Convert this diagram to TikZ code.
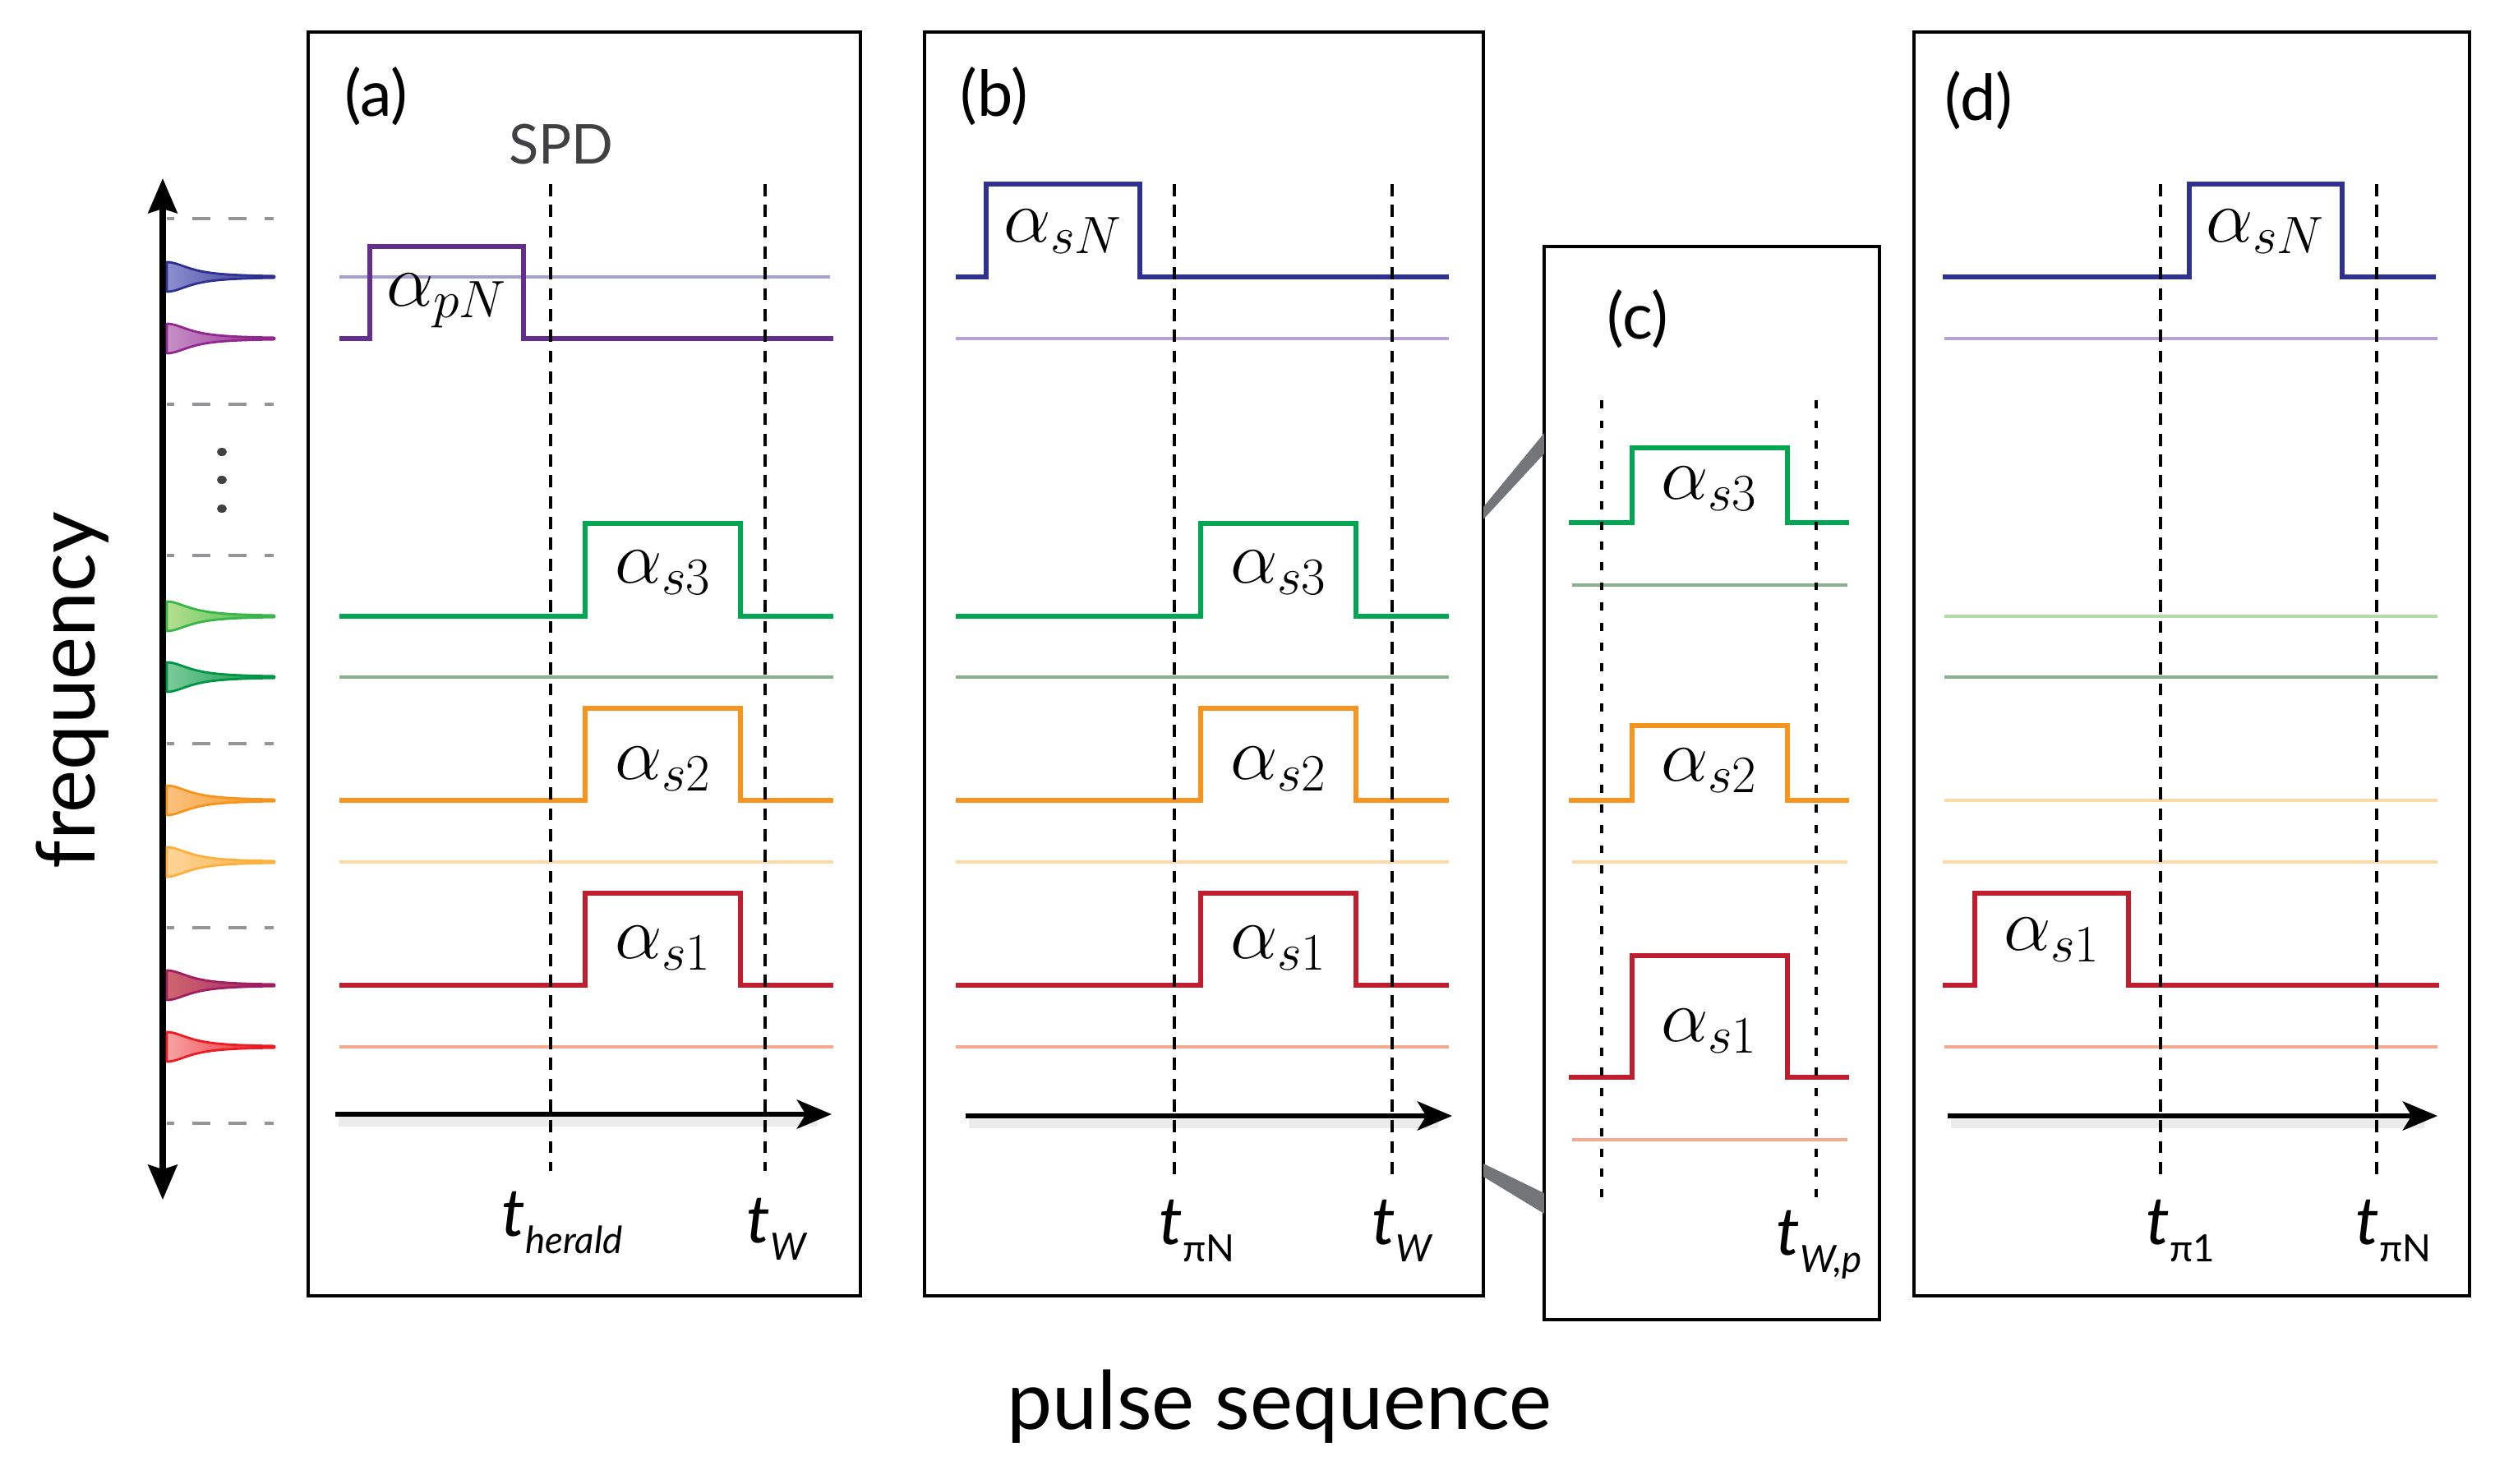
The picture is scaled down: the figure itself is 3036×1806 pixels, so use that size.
\RequirePackage{fix-cm}
\documentclass[tikz,border=0pt]{standalone}
\usepackage{fontspec}
\newfontfamily\labfont{Lato}
\usetikzlibrary{arrows.meta}
\definecolor{cBlu}{HTML}{2E3192}
\definecolor{cPur}{HTML}{662D91}
\definecolor{cLav}{HTML}{A3A1D1}
\definecolor{cLpu}{HTML}{B7A2D3}
\definecolor{cGrn}{HTML}{00A651}
\definecolor{cGg}{HTML}{8DAF90}
\definecolor{cLgr}{HTML}{B3DCA6}
\definecolor{cOra}{HTML}{F7941D}
\definecolor{cLor}{HTML}{FDD9A6}
\definecolor{cRed}{HTML}{BE1E2D}
\definecolor{cLrd}{HTML}{F5A98F}
\definecolor{cTick}{HTML}{939598}
\definecolor{cDot}{HTML}{414042}
\definecolor{cConn}{HTML}{747578}
\definecolor{cSpd}{HTML}{414042}
\definecolor{pBluD}{HTML}{2E3192}\definecolor{pBluL}{HTML}{8C90CF}
\definecolor{pPurD}{HTML}{92278F}\definecolor{pPurL}{HTML}{C690C8}
\definecolor{pLgD}{HTML}{39B54A}\definecolor{pLgL}{HTML}{B6E08F}
\definecolor{pGD}{HTML}{009444}\definecolor{pGL}{HTML}{7DCB9B}
\definecolor{pOD}{HTML}{F7941D}\definecolor{pOL}{HTML}{FBC27F}
\definecolor{pLoD}{HTML}{FBB040}\definecolor{pLoL}{HTML}{FDD598}
\definecolor{pMD}{HTML}{9E1F63}\definecolor{pML}{HTML}{D0656E}
\definecolor{pRD}{HTML}{ED1C24}\definecolor{pRL}{HTML}{F7A3A3}
\newcommand\mytlab[1]{{\fontsize{23}{23}\selectfont\itshape t}\raisebox{-6pt}{\fontsize{13}{13}\selectfont #1}}
\begin{document}
\begin{tikzpicture}[x=0.01cm,y=-0.01cm,
  panel/.style={draw=black,line width=1.2pt},
  sig/.style={line width=1.5pt,line join=miter},
  ghost/.style={line width=1pt},
  tline/.style={line width=1.35pt,dash pattern=on 4.2pt off 3pt},
  tdot/.style={line width=1.4pt,dash pattern=on 2.8pt off 4.2pt},
  tarrow/.style={line width=1.7pt,-{Stealth[length=12pt,width=10pt,inset=3pt]}},
  tshadow/.style={line width=3.5pt,black,opacity=0.08},
  faxis/.style={line width=2pt,{Stealth[length=12pt,width=10pt,inset=1.5pt]}-{Stealth[length=12pt,width=10pt,inset=1.5pt]}},
  tick/.style={draw=cTick,line width=1.1pt,dash pattern=on 2.2mm off 2.2mm,dash phase=1.3mm},
  conn/.style={fill=cConn},
  alab/.style={font=\fontsize{26}{30}\selectfont,inner sep=0pt},
  plab/.style={font=\labfont\fontsize{22}{26}\selectfont,inner sep=0pt},
  spdlab/.style={font=\labfont\fontsize{19}{22}\selectfont,text=cSpd,inner sep=0pt},
  tlab/.style={font=\labfont,inner sep=0pt,anchor=base west},
  biglab/.style={font=\labfont\fontsize{28}{32}\selectfont,inner sep=0pt}]
\useasboundingbox (0,0) rectangle (3036,1806);

% ---------- frequency axis ----------
\coordinate (fbot) at (198,1460);
\coordinate (ftop) at (198,217);
\draw[faxis] (fbot) -- (ftop);
\foreach \y in {266,492,676,905,1129,1367}
  \draw[tick] (203,\y) -- (333,\y);
\foreach \Y/\L/\D in {337/pBluL/pBluD,412/pPurL/pPurD,750/pLgL/pLgD,824/pGL/pGD,974/pOL/pOD,1049/pLoL/pLoD,1199/pML/pMD,1274/pRL/pRD}{
  \shadedraw[left color=\L,right color=\D,draw=\D,line width=0.8pt,line join=round]
    plot[domain=203:334,samples=40,smooth] (\x,{\Y-18/(1+((\x-203)/33)^2)})
    -- plot[domain=334:203,samples=40,smooth] (\x,{\Y+18/(1+((\x-203)/33)^2)}) -- cycle;
}
\foreach \y in {550,584,619}
  \fill[cDot] (270,\y) ellipse (0.6mm and 0.5mm);
\node[biglab,rotate=90] (freq) at (88,840) {frequency};
\node[biglab] (pseq) at (1557,1712) {pulse sequence};

% ---------- panel (a) ----------
\draw[panel] (375,39) rectangle (1047,1577);
\node[plab] (la) at (458,117) {(a)};
\node[spdlab] (spd) at (683,176) {SPD};
\draw[ghost,cLav] (413,337) -- (1010,337);
\draw[sig,cPur] (413,412) -- (450,412) -- (450,300) -- (637,300) -- (637,412) -- (1014,412);
\node[alab] (a-apN) at (544,366) {$\alpha_{pN}$};
\draw[sig,cGrn] (413,750) -- (712,750) -- (712,637) -- (901,637) -- (901,750) -- (1014,750);
\node[alab] (a-as3) at (807,697) {$\alpha_{s3}$};
\draw[ghost,cGg] (413,824) -- (1014,824);
\draw[sig,cOra] (413,974) -- (712,974) -- (712,862) -- (901,862) -- (901,974) -- (1014,974);
\node[alab] (a-as2) at (807,936) {$\alpha_{s2}$};
\draw[ghost,cLor] (413,1049) -- (1014,1049);
\draw[sig,cRed] (413,1199) -- (712,1199) -- (712,1087) -- (901,1087) -- (901,1199) -- (1014,1199);
\node[alab] (a-as1) at (807,1154) {$\alpha_{s1}$};
\draw[ghost,cLrd] (413,1274) -- (1014,1274);
\coordinate (a-t0) at (408,1356);
\coordinate (a-t1) at (1012,1356);
\draw[tshadow] (412,1365) -- (995,1365);
\draw[tarrow] (a-t0) -- (a-t1);
\draw[tline] (670,224) -- (670,1425);
\draw[tline] (931,224) -- (931,1425);
\node[tlab] (a-th) at (610,1504) {\mytlab{\itshape herald}};
\node[tlab] (a-tw) at (908,1512) {\mytlab{\itshape W}};

% ---------- panel (b) ----------
\draw[panel] (1125,39) rectangle (1805,1577);
\node[plab] (lb) at (1210,117) {(b)};
\draw[sig,cBlu] (1163,337) -- (1200,337) -- (1200,224) -- (1387,224) -- (1387,337) -- (1763,337);
\node[alab] (b-asN) at (1294,282) {$\alpha_{sN}$};
\draw[ghost,cLpu] (1163,412) -- (1763,412);
\draw[sig,cGrn] (1163,750) -- (1461,750) -- (1461,637) -- (1650,637) -- (1650,750) -- (1763,750);
\node[alab] (b-as3) at (1556,697) {$\alpha_{s3}$};
\draw[ghost,cGg] (1163,824) -- (1763,824);
\draw[sig,cOra] (1163,974) -- (1461,974) -- (1461,862) -- (1650,862) -- (1650,974) -- (1763,974);
\node[alab] (b-as2) at (1556,936) {$\alpha_{s2}$};
\draw[ghost,cLor] (1163,1049) -- (1763,1049);
\draw[sig,cRed] (1163,1199) -- (1461,1199) -- (1461,1087) -- (1650,1087) -- (1650,1199) -- (1763,1199);
\node[alab] (b-as1) at (1556,1154) {$\alpha_{s1}$};
\draw[ghost,cLrd] (1163,1274) -- (1763,1274);
\coordinate (b-t0) at (1175,1358);
\coordinate (b-t1) at (1767,1358);
\draw[tshadow] (1179,1367) -- (1750,1367);
\draw[tarrow] (b-t0) -- (b-t1);
\draw[tline] (1429,224) -- (1429,1430);
\draw[tline] (1694,224) -- (1694,1430);
\node[tlab] (b-tp) at (1410,1514) {\mytlab{πN}};
\node[tlab] (b-tw) at (1669,1514) {\mytlab{\itshape W}};

% ---------- panel (c) ----------
\draw[panel] (1879,300) rectangle (2287,1606);
\node[plab] (lc) at (1993,388) {(c)};
\draw[sig,cGrn] (1909,636) -- (1986,636) -- (1986,545) -- (2175,545) -- (2175,636) -- (2250,636);
\node[alab] (c-as3) at (2080,595) {$\alpha_{s3}$};
\draw[ghost,cGg] (1913,712) -- (2248,712);
\draw[sig,cOra] (1909,974) -- (1986,974) -- (1986,883) -- (2175,883) -- (2175,974) -- (2250,974);
\node[alab] (c-as2) at (2080,938) {$\alpha_{s2}$};
\draw[ghost,cLor] (1913,1049) -- (2248,1049);
\draw[sig,cRed] (1909,1311) -- (1986,1311) -- (1986,1163) -- (2175,1163) -- (2175,1311) -- (2250,1311);
\node[alab] (c-as1) at (2080,1255) {$\alpha_{s1}$};
\draw[ghost,cLrd] (1913,1387) -- (2248,1387);
\draw[tdot] (1949,487) -- (1949,1460);
\draw[tdot] (2210,487) -- (2210,1460);
\node[tlab] (c-tw) at (2161,1527) {\mytlab{\itshape W,p}};

% ---------- zoom connectors (b) -> (c) ----------
\coordinate (b-up1) at (1805,617);
\coordinate (b-up2) at (1805,632);
\coordinate (c-up1) at (1879,527);
\coordinate (c-up2) at (1879,552);
\coordinate (b-lo1) at (1805,1416);
\coordinate (b-lo2) at (1805,1432);
\coordinate (c-lo1) at (1879,1452);
\coordinate (c-lo2) at (1879,1477);
\fill[conn] (b-up1) -- (c-up1) -- (c-up2) -- (b-up2) -- cycle;
\fill[conn] (b-lo1) -- (c-lo1) -- (c-lo2) -- (b-lo2) -- cycle;

% ---------- panel (d) ----------
\draw[panel] (2329,39) rectangle (3005,1577);
\node[plab] (ld) at (2408,122) {(d)};
\draw[sig,cBlu] (2364,337) -- (2664,337) -- (2664,224) -- (2850,224) -- (2850,337) -- (2964,337);
\node[alab] (d-asN) at (2757,282) {$\alpha_{sN}$};
\draw[ghost,cLpu] (2366,412) -- (2966,412);
\draw[ghost,cLgr] (2366,750) -- (2966,750);
\draw[ghost,cGg] (2366,824) -- (2966,824);
\draw[ghost,cLor] (2366,974) -- (2966,974);
\draw[ghost,cLor] (2364,1049) -- (2966,1049);
\draw[sig,cRed] (2364,1199) -- (2403,1199) -- (2403,1087) -- (2590,1087) -- (2590,1199) -- (2968,1199);
\node[alab] (d-as1) at (2497,1144) {$\alpha_{s1}$};
\draw[ghost,cLrd] (2366,1274) -- (2966,1274);
\coordinate (d-t0) at (2370,1358);
\coordinate (d-t1) at (2966,1358);
\draw[tshadow] (2374,1367) -- (2950,1367);
\draw[tarrow] (d-t0) -- (d-t1);
\draw[tline] (2629,224) -- (2629,1433);
\draw[tline] (2892,224) -- (2892,1433);
\node[tlab] (d-t1lab) at (2611,1514) {\mytlab{π1}};
\node[tlab] (d-tNlab) at (2866,1514) {\mytlab{πN}};
\end{tikzpicture}
\end{document}
